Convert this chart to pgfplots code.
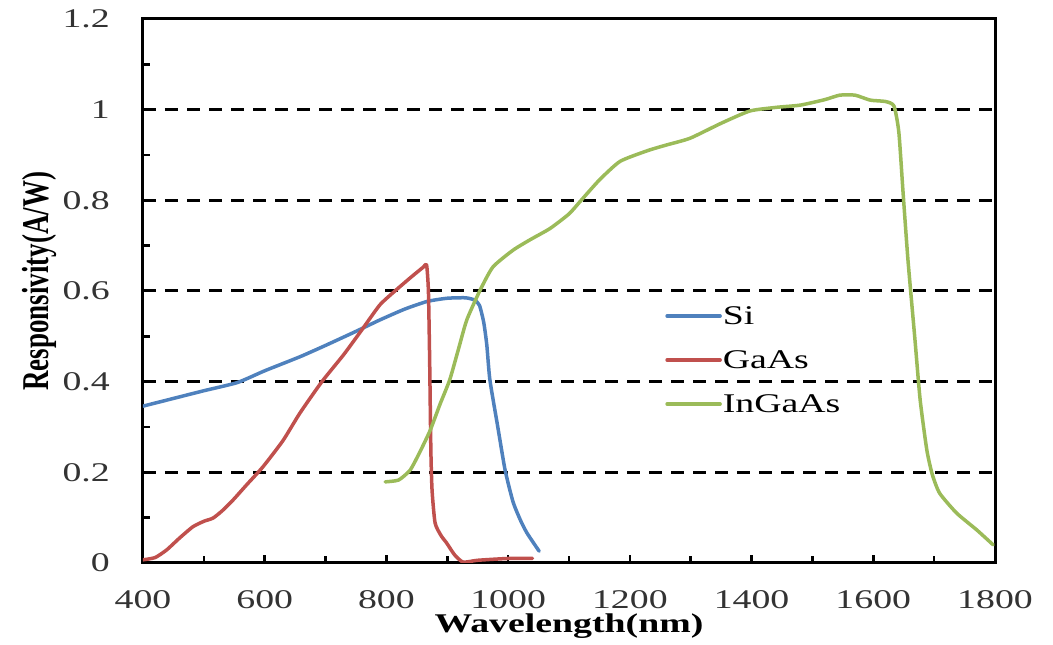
\documentclass[border=0pt]{standalone}
\usepackage{fontspec}
\setmainfont{Liberation Serif}[FakeStretch=1.4]
\newfontfamily\ylabfont{Liberation Serif}
\usepackage{pgfplots}
\pgfplotsset{compat=1.18}
\definecolor{siblue}{HTML}{4F81BD}
\definecolor{gared}{HTML}{C0504D}
\definecolor{ingreen}{HTML}{9BBB59}
\begin{document}
\begin{tikzpicture}
\useasboundingbox (0,0) rectangle (1053pt,645pt);
\begin{axis}[
  at={(143pt,82pt)}, anchor=south west,
  scale only axis, width=852pt, height=544pt,
  xmin=400, xmax=1800, ymin=0, ymax=1.2,
  xtick={400,600,...,1800}, ytick={0,0.2,...,1.2},
  minor x tick num=1, minor y tick num=1,
  xtick pos=bottom, ytick pos=left,
  tick align=inside,
  major tick length=8pt, minor tick length=7pt,
  every tick/.style={black, line width=2.5pt},
  axis line style={line width=3pt},
  /pgf/number format/assume math mode=true,
  /pgf/number format/set thousands separator={},
  ticklabel style={font=\fontsize{27}{32}\selectfont, text=black!80},
  yticklabel style={inner sep=0pt, xshift=-33pt},
  xticklabel style={inner sep=0pt, yshift=-27pt},
  ymajorgrids,
  major grid style={black, line width=3pt, dash pattern=on 13pt off 9pt},
  xlabel={\bfseries Wavelength(nm)},
  xlabel style={font=\fontsize{27}{32}\selectfont, at={(axis description cs:0.5,0)}, anchor=north, inner sep=0pt, yshift=-51pt},
  ylabel={\scalebox{1}[1.4]{\ylabfont\bfseries Responsivity(A/W)}},
  ylabel style={font=\fontsize{27}{32}\selectfont, at={(axis description cs:-0.121,0.518)}, anchor=center, inner sep=0pt},
  legend style={draw=none, fill=none, at={(axis cs:1258,0.448)}, anchor=west, inner sep=0pt,
    font=\fontsize{27}{32}\selectfont, row sep=26pt,
    nodes={inner ysep=0pt, inner xsep=1pt, text height=18pt, text depth=0pt},
    /tikz/every even column/.append style={column sep=0pt}},
  legend cell align=left,
  legend image code/.code={\draw[#1] (0pt,0pt) -- (53pt,0pt);},
  every axis plot/.append style={line width=3.5pt, line join=round, line cap=round, smooth, tension=0.35},
]
\addplot[siblue] coordinates {
(400,0.346) (450,0.363) (500,0.380) (555,0.398) (600,0.424) (658,0.455)
(700,0.480) (750,0.511) (789,0.536) (830,0.560) (867,0.577) (900,0.584)
(930,0.585) (945,0.580) (953,0.568) (960,0.53) (965,0.48) (970,0.404) (983,0.30)
(995,0.205) (1008,0.135) (1020,0.095) (1031,0.066) (1051,0.026)
};
\addlegendentry{Si}
\addplot[gared] coordinates {
(400,0.007) (420,0.012) (439,0.029) (460,0.055) (482,0.080) (500,0.092)
(515,0.099) (530,0.115) (548,0.139) (570,0.172) (597,0.212) (630,0.270)
(658,0.331) (694,0.400) (730,0.460) (760,0.515) (789,0.569) (814,0.600)
(840,0.630) (860,0.652) (866,0.657) (869,0.60) (871,0.45) (873,0.25)
(875,0.160) (880,0.088) (890,0.060) (899,0.044) (912,0.018) (926,0.002)
(950,0.006) (1000,0.010) (1040,0.010)
};
\addlegendentry{GaAs}
\addplot[ingreen] coordinates {
(798,0.179) (820,0.183) (839,0.205) (855,0.245) (872,0.293) (888,0.350)
(904,0.404) (918,0.470) (932,0.536) (954,0.602) (975,0.653) (1008,0.690)
(1036,0.713) (1069,0.738) (1100,0.770) (1118,0.797) (1150,0.845)
(1184,0.886) (1230,0.910) (1260,0.922) (1299,0.937) (1350,0.970)
(1397,0.997) (1440,1.005) (1480,1.010) (1520,1.022) (1545,1.032)
(1570,1.032) (1595,1.021) (1620,1.018) (1634,1.008) (1642,0.950)
(1649,0.816) (1657,0.668) (1668,0.500) (1677,0.360) (1688,0.249)
(1697,0.195) (1709,0.154) (1737,0.110) (1770,0.073) (1797,0.040)
};
\addlegendentry{InGaAs}
\end{axis}
\end{tikzpicture}
\end{document}
